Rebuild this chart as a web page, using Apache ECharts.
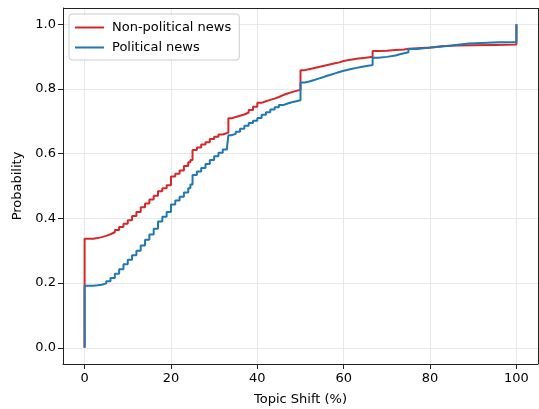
<!DOCTYPE html>
<html>
<head>
<meta charset="utf-8">
<script src="https://cdn.jsdelivr.net/npm/echarts@6/dist/echarts.min.js"></script>
<style>
  html, body { margin: 0; padding: 0; background: #fff; }
  #chart { width: 539px; height: 409px; }
</style>
</head>
<body>
<div id="chart"></div>
<script>
// ECDF of topic shift
const nonPolX = [0, 0, 1, 2, 3, 4, 5, 6, 7, 8, 9, 10, 11, 12, 13, 14, 15, 16, 17, 18, 19, 20, 21, 22, 23, 24, 24.5, 25, 26, 27, 28, 29, 30, 31, 32, 33.3, 34, 35, 36, 37, 38, 39, 40, 41, 42, 43, 44, 45, 46, 47, 48, 49, 50, 51, 52, 53, 54, 55, 56, 57, 58, 59, 60, 61, 62, 63, 64, 65, 66, 66.7, 68, 70, 72, 74, 75, 77, 80, 83, 86, 90, 95, 100];
const nonPolY = [0, 0.337, 0.337, 0.339, 0.342, 0.346, 0.351, 0.357, 0.364, 0.373, 0.383, 0.394, 0.407, 0.42, 0.434, 0.446, 0.458, 0.47, 0.484, 0.493, 0.502, 0.529, 0.538, 0.548, 0.562, 0.573, 0.58, 0.611, 0.619, 0.628, 0.635, 0.645, 0.652, 0.659, 0.665, 0.709, 0.713, 0.717, 0.721, 0.727, 0.735, 0.745, 0.757, 0.762, 0.766, 0.77, 0.775, 0.781, 0.786, 0.79, 0.794, 0.797, 0.858, 0.861, 0.864, 0.867, 0.87, 0.873, 0.876, 0.879, 0.882, 0.886, 0.889, 0.891, 0.893, 0.895, 0.896, 0.898, 0.899, 0.917, 0.918, 0.92, 0.922, 0.924, 0.926, 0.928, 0.932, 0.934, 0.935, 0.936, 0.937, 1.0];

const polX = [0, 0, 1, 2, 3, 4, 5, 6, 7, 8, 9, 10, 11, 12, 13, 14, 15, 16, 17, 18, 19, 20, 21, 22, 23, 24, 24.5, 25, 26, 27, 28, 29, 30, 31, 32, 33, 33.3, 34, 35, 36, 37, 38, 39, 40, 41, 42, 43, 44, 45, 46, 47, 48, 49, 50, 51, 52, 53, 54, 55, 56, 57, 58, 59, 60, 61, 62, 63, 64, 65, 66, 66.7, 68, 70, 72, 73, 74, 75, 77, 79, 81, 83, 85, 87, 89, 92, 96, 100];
const polY = [0, 0.192, 0.192, 0.193, 0.195, 0.199, 0.206, 0.216, 0.229, 0.243, 0.258, 0.272, 0.286, 0.3, 0.316, 0.334, 0.35, 0.368, 0.39, 0.405, 0.42, 0.443, 0.455, 0.467, 0.48, 0.493, 0.505, 0.534, 0.545, 0.556, 0.568, 0.58, 0.592, 0.603, 0.613, 0.622, 0.657, 0.661, 0.668, 0.677, 0.686, 0.695, 0.702, 0.71, 0.72, 0.728, 0.736, 0.743, 0.75, 0.755, 0.759, 0.762, 0.765, 0.82, 0.823, 0.827, 0.831, 0.835, 0.84, 0.844, 0.848, 0.852, 0.856, 0.859, 0.862, 0.865, 0.868, 0.87, 0.872, 0.874, 0.896, 0.899, 0.903, 0.907, 0.91, 0.913, 0.923, 0.926, 0.929, 0.932, 0.934, 0.937, 0.94, 0.942, 0.944, 0.945, 1.0];

const xTicks = [0, 20, 40, 60, 80, 100];
const yTicks = [0, 0.2, 0.4, 0.6, 0.8, 1.0];

const seriesNames = ['Non-political news', 'Political news'];
const colors = ['#d62728', '#1f77b4'];

function pairs(xs, ys) {
  return xs.map((x, i) => [x, ys[i]]);
}

const chart = echarts.init(document.getElementById('chart'), null, { renderer: 'canvas' });
const font = 'DejaVu Sans';

const option = {
  animation: false,
  color: colors,
  textStyle: { fontFamily: font },
  grid: { left: 63, right: 1, top: 8, bottom: 45, outerBoundsMode: 'none', containLabel: false },
  legend: {
    orient: 'vertical',
    left: 69,
    top: 14,
    padding: [7, 8, 6, 6],
    itemGap: 7,
    itemWidth: 29,
    itemHeight: 2,
    icon: 'rect',
    borderColor: '#cccccc',
    borderWidth: 1,
    borderRadius: 3,
    backgroundColor: 'rgba(255,255,255,0.8)',
    textStyle: { fontFamily: font, fontSize: 13, color: '#000', padding: [0, 0, 0, 3] },
    data: seriesNames
  },
  xAxis: {
    type: 'value',
    min: -5,
    max: 105,
    name: 'Topic Shift (%)',
    nameLocation: 'middle',
    nameGap: 29,
    nameTextStyle: { fontFamily: font, fontSize: 13, color: '#000' },
    axisLine: { show: true, onZero: false, lineStyle: { color: '#222', width: 1 } },
    axisTick: { show: true, length: 5, lineStyle: { color: '#222' }, customValues: xTicks },
    axisLabel: { fontFamily: font, fontSize: 13, color: '#000', margin: 8, customValues: xTicks },
    splitLine: { show: true, lineStyle: { color: '#e8e8e8', width: 1 } }
  },
  yAxis: {
    type: 'value',
    min: -0.05,
    max: 1.05,
    name: 'Probability',
    nameLocation: 'middle',
    nameGap: 38,
    nameTextStyle: { fontFamily: font, fontSize: 13, color: '#000' },
    axisLine: { show: true, onZero: false, lineStyle: { color: '#222', width: 1 } },
    axisTick: { show: true, length: 5, lineStyle: { color: '#222' }, customValues: yTicks },
    axisLabel: { fontFamily: font, fontSize: 13, color: '#000', margin: 7, customValues: yTicks,
      formatter: v => v.toFixed(1) },
    splitLine: { show: true, lineStyle: { color: '#e8e8e8', width: 1 } }
  },
  series: [
    {
      name: seriesNames[0],
      type: 'line',
      step: 'end',
      showSymbol: false,
      symbol: 'none',
      lineStyle: { width: 2, color: colors[0] },
      data: pairs(nonPolX, nonPolY),
      z: 2
    },
    {
      name: seriesNames[1],
      type: 'line',
      step: 'end',
      showSymbol: false,
      symbol: 'none',
      lineStyle: { width: 2, color: colors[1] },
      data: pairs(polX, polY),
      z: 3
    },
    {
      // top and right spines of the axes box
      type: 'line',
      silent: true,
      data: [],
      markLine: {
        silent: true,
        symbol: 'none',
        label: { show: false },
        lineStyle: { color: '#222', width: 1, type: 'solid' },
        data: [{ yAxis: 1.05 }, { xAxis: 105 }]
      }
    }
  ]
};

chart.setOption(option);
</script>
</body>
</html>
